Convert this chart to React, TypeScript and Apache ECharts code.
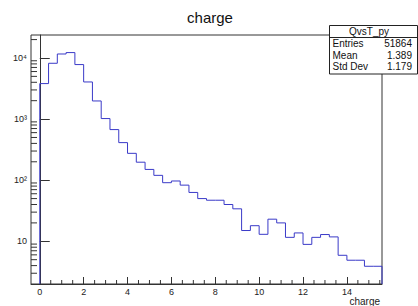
import React, { useEffect, useRef } from "react";
import * as echarts from "echarts";

// ---- data ----
const titleText = "charge";
const xAxisTitle = "charge";
const binWidth = 0.4;
const firstEdge = 0;
const xMin = -0.4;
const xMax = 15.6;
const yMin = 2;
const yMax = 23770;
// bin contents (bins of width 0.4 starting at 0)
const counts = [
  3810, 8190, 11620, 12250, 7800, 4050, 1980, 1020, 673, 412,
  275, 197, 150, 120, 91, 97, 83, 63, 50, 47,
  47, 40, 34, 15, 18, 13, 23, 20, 11.6, 13.7,
  8.9, 11.6, 12.9, 11.8, 5.9, 4.9, 4.9, 3.9, 3.9,
];
const xMajorTicks = [0, 2, 4, 6, 8, 10, 12, 14];
const xMinorTicks = [
  0.5, 1, 1.5, 2.5, 3, 3.5, 4.5, 5, 5.5, 6.5, 7, 7.5, 8.5, 9, 9.5,
  10.5, 11, 11.5, 12.5, 13, 13.5, 14.5, 15, 15.5,
];
const yMinorTicks = [
  3, 4, 5, 6, 7, 8, 9,
  20, 30, 40, 50, 60, 70, 80, 90,
  200, 300, 400, 500, 600, 700, 800, 900,
  2000, 3000, 4000, 5000, 6000, 7000, 8000, 9000,
  20000,
];
const yLabelMap: Record<number, string> = { 1: "10", 2: "10²", 3: "10³", 4: "10⁴" };
const statsName = "QvsT_py";
const statsRows = [
  ["Entries", "51864"],
  ["Mean", "1.389"],
  ["Std Dev", "1.179"],
];

const FONT = "'Liberation Sans', Arial, sans-serif";
const LINE = "#3a3ac8";
const AXIS = "#333";

export default function App() {
  const ref = useRef<HTMLDivElement>(null);
  useEffect(() => {
    if (!ref.current) return;
    const chart = echarts.init(ref.current, null, { renderer: "svg" });

    const pts: number[][] = [[firstEdge, yMin]];
    counts.forEach((c, i) => {
      const lo = firstEdge + i * binWidth;
      const hi = lo + binWidth;
      pts.push([lo, c]);
      pts.push([hi, c]);
    });
    pts.push([firstEdge + counts.length * binWidth, yMin]);

    const tickStyle = { stroke: AXIS, lineWidth: 1 };

    chart.setOption({
      animation: false,
      title: {
        text: titleText,
        left: 205,
        top: 5,
        textAlign: "center",
        textStyle: { fontFamily: FONT, fontSize: 15, fontWeight: "normal", color: "#111" },
      },
      grid: {
        left: 31,
        right: 36,
        top: 35,
        bottom: 22,
        show: true,
        borderColor: AXIS,
        borderWidth: 1,
        backgroundColor: "transparent",
        outerBoundsMode: "none",
        containLabel: false,
      },
      xAxis: {
        type: "value",
        min: xMin,
        max: xMax,
        axisLine: { show: true, lineStyle: { color: AXIS, width: 1 } },
        axisTick: { show: true, inside: true, length: 7, customValues: xMajorTicks, lineStyle: { color: AXIS } },
        axisLabel: {
          customValues: xMajorTicks,
          fontFamily: FONT,
          fontSize: 9,
          color: "#222",
          margin: 3,
        },
        splitLine: { show: false },
      },
      yAxis: {
        type: "log",
        logBase: 10,
        min: yMin,
        max: yMax,
        axisLine: { show: true, lineStyle: { color: AXIS, width: 1 } },
        axisTick: { show: true, inside: true, length: 10, lineStyle: { color: AXIS } },
        axisLabel: {
          showMinLabel: false,
          showMaxLabel: false,
          fontFamily: FONT,
          fontSize: 9,
          color: "#222",
          margin: 4,
          formatter: (v: number) => {
            const e = Math.log10(v);
            const r = Math.round(e);
            if (Math.abs(e - r) > 1e-6) return "";
            return yLabelMap[r] ?? "";
          },
        },
        splitLine: { show: false },
      },
      series: [
        {
          type: "line",
          data: pts,
          symbol: "none",
          clip: true,
          lineStyle: { color: LINE, width: 1 },
          silent: true,
          z: 3,
        },
        {
          type: "custom",
          data: xMinorTicks.map((v) => [v, yMin]),
          silent: true,
          clip: false,
          renderItem: (_p: any, api: any) => {
            const p = api.coord([api.value(0), api.value(1)]);
            return {
              type: "line",
              shape: { x1: p[0], y1: p[1], x2: p[0], y2: p[1] - 4 },
              style: tickStyle,
            };
          },
        },
        {
          type: "custom",
          data: yMinorTicks.map((v) => [xMin, v]),
          silent: true,
          clip: false,
          renderItem: (_p: any, api: any) => {
            const p = api.coord([api.value(0), api.value(1)]);
            return {
              type: "line",
              shape: { x1: p[0], y1: p[1], x2: p[0] + 6, y2: p[1] },
              style: tickStyle,
            };
          },
        },
      ],
      graphic: [
        {
          type: "text",
          right: 38,
          top: 296,
          style: { text: xAxisTitle, fontFamily: FONT, fontSize: 10, fill: "#222" },
        },
        {
          type: "group",
          z: 100,
          children: [
            {
              type: "rect",
              shape: { x: 329.5, y: 25.5, width: 88, height: 48.5 },
              style: { fill: "#fff", stroke: "#222", lineWidth: 1 },
            },
            {
              type: "line",
              shape: { x1: 329.5, y1: 37.5, x2: 417.5, y2: 37.5 },
              style: { stroke: "#222", lineWidth: 1 },
            },
            {
              type: "text",
              x: 369,
              y: 31.5,
              style: {
                text: statsName,
                fontFamily: FONT,
                fontSize: 10,
                fill: "#111",
                align: "center",
                verticalAlign: "middle",
              },
            },
            ...statsRows.flatMap((row, i) => [
              {
                type: "text",
                x: 332.5,
                y: 43.5 + i * 11.5,
                style: { text: row[0], fontFamily: FONT, fontSize: 10, fill: "#111", align: "left", verticalAlign: "middle" },
              },
              {
                type: "text",
                x: 412,
                y: 43.5 + i * 11.5,
                style: { text: row[1], fontFamily: FONT, fontSize: 10, fill: "#111", align: "right", verticalAlign: "middle" },
              },
            ]),
          ],
        },
      ],
    });
    return () => chart.dispose();
  }, []);
  return (
    <div
      ref={ref}
      style={{ position: "fixed", left: 0, top: 0, width: 418, height: 306, background: "#fff" }}
    />
  );
}
